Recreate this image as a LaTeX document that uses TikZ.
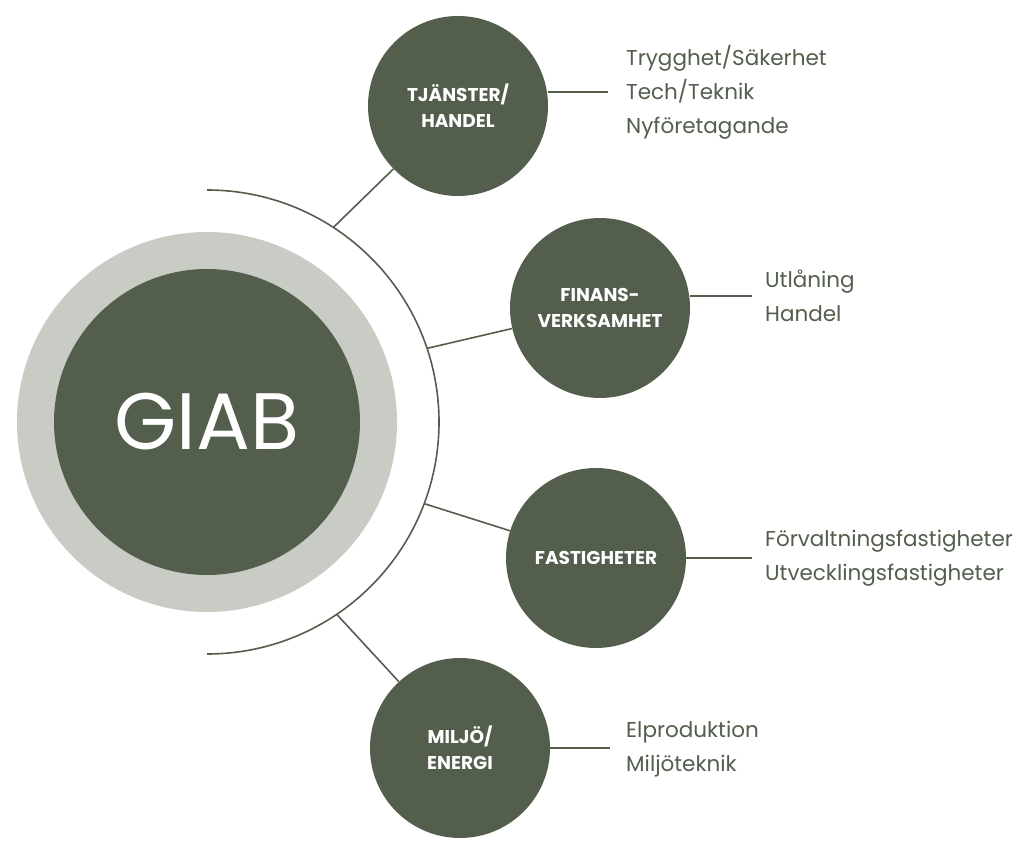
\documentclass[tikz,border=0pt]{standalone}
\usepackage{fontspec}
\setmainfont{Poppins}
\usetikzlibrary{positioning,calc}
\definecolor{giabgreen}{HTML}{535E4C}
\definecolor{giabgrey}{HTML}{C9CCC5}
\tikzset{
  branch/.style={circle, fill=giabgreen, minimum size=180pt, inner sep=0pt,
    text=white, align=center, font=\fontsize{18.5}{26}\selectfont\bfseries},
  list/.style={anchor=west, align=left, text=giabgreen, inner sep=0pt,
    font=\fontsize{21.5}{34}\selectfont},
  link/.style={draw=giabgreen, line width=1.6pt}
}
\begin{document}
\begin{tikzpicture}[x=1pt,y=1pt]
\useasboundingbox (0,0) rectangle (1024,841);
% centre
\fill[giabgrey] (207,419) circle (190);
\node[circle, fill=giabgreen, minimum size=306pt, text=white,
  font=\fontsize{80}{80}\selectfont] (giab) at (207,419) {GIAB};
\draw[link] (207,651) arc (90:-90:232);
% branches
\node[branch] (tj) at (458,735) {TJÄNSTER/\\HANDEL};
\node[branch] (fin) at (600,533) {FINANS-\\VERKSAMHET};
\node[branch] (fast) at (596,283) {FASTIGHETER};
\node[branch] (mil) at (460,93) {MILJÖ/\\ENERGI};
\coordinate (a1) at ($(giab)+(57:232)$);
\coordinate (a2) at ($(giab)+(18.5:232)$);
\coordinate (a3) at ($(giab)+(-20.6:232)$);
\coordinate (a4) at ($(giab)+(-56:232)$);
\draw[link] (a1) -- (tj);
\draw[link] (a2) -- (fin);
\draw[link] (a3) -- (fast);
\draw[link] (a4) -- (mil);
% lists
\node[list] (tjl) at (626,749) {Trygghet/Säkerhet\\Tech/Teknik\\Nyföretagande};
\node[list] (finl) at (765,545) {Utlåning\\Handel};
\node[list] (fastl) at (765,283) {Förvaltningsfastigheter\\Utvecklingsfastigheter};
\node[list] (mill) at (626,92) {Elproduktion\\Miljöteknik};
\draw[link] ([yshift=14]tj.east) -- ++(60,0);
\draw[link] ([yshift=12]fin.east) -- ++(62,0);
\draw[link] (fast.east) -- ++(66,0);
\draw[link] (mil.east) -- ++(60,0);
\end{tikzpicture}
\end{document}
